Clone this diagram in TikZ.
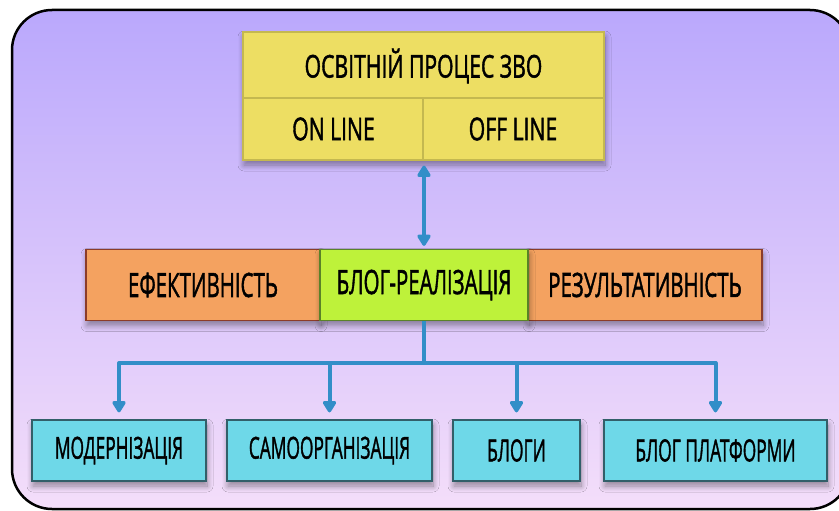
\documentclass[tikz,border=0pt]{standalone}
\usepackage{fontspec}
\setmainfont{Open Sans}
\newfontfamily\labelfont{Open Sans}[FakeBold=1.8]
\usetikzlibrary{arrows.meta,shadows.blur}
\definecolor{frameTop}{RGB}{186,168,252}
\definecolor{frameBot}{RGB}{244,222,250}
\definecolor{yellowFill}{RGB}{237,222,99}
\definecolor{yellowLine}{RGB}{196,184,80}
\definecolor{orangeFill}{RGB}{244,162,96}
\definecolor{orangeLine}{RGB}{140,60,40}
\definecolor{greenFill}{RGB}{190,242,58}
\definecolor{greenLine}{RGB}{90,130,40}
\definecolor{cyanFill}{RGB}{110,216,232}
\definecolor{cyanLine}{RGB}{50,95,105}
\definecolor{linkBlue}{RGB}{50,142,200}
% condensed label: font size, horizontal scale, text
\newcommand\narrow[3]{\labelfont\fontsize{#1}{#1}\selectfont\scalebox{#2}[1.08]{#3}}
\tikzset{
  softshadow/.style={blur shadow={shadow xshift=1pt, shadow yshift=-5pt,
    shadow blur radius=6pt, shadow blur steps=10, shadow opacity=40}},
  boxbase/.style={draw, line width=1.2pt, inner sep=0pt, softshadow},
  sidebox/.style={boxbase, fill=orangeFill, draw=orangeLine,
    minimum width=234pt, minimum height=71pt},
  corebox/.style={boxbase, fill=greenFill, draw=greenLine,
    minimum width=208pt, minimum height=71pt},
  leafbox/.style={boxbase, fill=cyanFill, draw=cyanLine, minimum height=61pt},
  label/.style={inner sep=0pt, text=black},
  link/.style={draw=linkBlue, line width=4pt, line join=round},
  tip/.style={-{Triangle[length=13pt,width=15pt,round]}},
}
\begin{document}
\begin{tikzpicture}[x=1pt,y=-1pt]
\useasboundingbox (0,0) rectangle (839,511);
\clip (0,0) rectangle (839,511);
% background panel
\draw[rounded corners=40pt, line width=2.5pt, top color=frameTop,
  bottom color=frameBot] (12,10) rectangle (850,509);

% top block: title row and two halves
\node[boxbase, fill=yellowFill, draw=yellowLine, minimum width=361pt,
  minimum height=128pt] (top) at (423.5,96) {};
\coordinate (midL) at (243,98);
\coordinate (midR) at (604,98);
\coordinate (splitT) at (423,98);
\draw[yellowLine, line width=1.2pt] (midL) -- (midR);
\draw[yellowLine, line width=1.2pt] (splitT) -- (splitT |- top.south);
\node[label] (title) at (423.5,66) {\narrow{29}{0.73}{ОСВІТНІЙ ПРОЦЕС ЗВО}};
\node[label] (online) at (333.5,129) {\narrow{29}{0.73}{ON LINE}};
\node[label] (offline) at (513,129) {\narrow{29}{0.73}{OFF LINE}};

% middle row
\node[sidebox] (eff) at (203,285) {};
\node[sidebox] (res) at (645,285) {};
\node[corebox] (blog) at (424,285) {};
\node[label] at (eff) {\narrow{31}{0.66}{ЕФЕКТИВНІСТЬ}};
\node[label] at (blog) {\narrow{31}{0.66}{БЛОГ-РЕАЛІЗАЦІЯ}};
\node[label] at (res) {\narrow{31}{0.66}{РЕЗУЛЬТАТИВНІСТЬ}};

% bottom row
\node[leafbox, minimum width=174pt] (mod) at (119,450.5) {\narrow{28}{0.62}{МОДЕРНІЗАЦІЯ}};
\node[leafbox, minimum width=205pt] (samo) at (329.5,450.5) {\narrow{28}{0.62}{САМООРГАНІЗАЦІЯ}};
\node[leafbox, minimum width=127pt] (blogs) at (516.5,450.5) {\narrow{28}{0.62}{БЛОГИ}};
\node[leafbox, minimum width=223pt] (plat) at (715.5,450.5) {\narrow{28}{0.62}{БЛОГ ПЛАТФОРМИ}};

% connectors
\draw[link, {Triangle[length=13pt,width=15pt,round]}-{Triangle[length=13pt,width=15pt,round]},
  shorten <=5pt, shorten >=3pt] (top.south -| blog.north) -- (blog.north);
\coordinate (hub) at (424,363);
\draw[link] (blog.south) -- (hub);
\draw[link, tip, shorten >=7pt] (hub) -| (mod.north);
\draw[link, tip, shorten >=7pt] (hub) -| (samo.north);
\draw[link, tip, shorten >=7pt] (hub) -| (blogs.north);
\draw[link, tip, shorten >=7pt] (hub) -| (plat.north);
\end{tikzpicture}
\end{document}
